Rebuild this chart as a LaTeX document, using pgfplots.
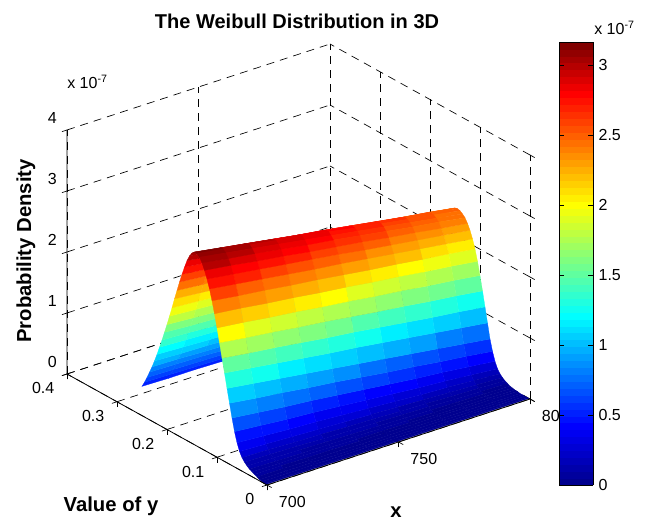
\documentclass[border=0pt]{standalone}
\usepackage{fontspec}
\setmainfont{Liberation Sans}
\usepackage{pgfplots}
\pgfplotsset{compat=1.18}
\pgfplotsset{
  colormap={mjetbase}{rgb255(0)=(0,0,143) rgb255(8)=(0,0,255) rgb255(24)=(0,255,255) rgb255(40)=(255,255,0) rgb255(56)=(255,0,0) rgb255(63)=(128,0,0)},
  colormap={mjet}{samples of colormap=(64 of mjetbase)},
}
\begin{document}
\fontsize{12pt}{14pt}\selectfont
\begin{tikzpicture}
\path[use as bounding box] (0,0) rectangle (486.75pt,390pt);
\begin{axis}[
  anchor=origin, at={(200.25pt,26.25pt)},
  x={(1.9725pt,0.645pt)}, y={(-375pt,208.125pt)}, z={(0pt,45.75pt)},
  xmin=700, xmax=800, ymin=0, ymax=0.4, zmin=0, zmax=4,
  xtick={700,750,800}, ytick={0,0.1,0.2,0.3,0.4}, ztick={0,1,2,3,4},
  /pgf/number format/assume math mode=true,
  /pgf/number format/fixed,
  scaled ticks=false,
  tick pos=left, tick align=outside,
  major tick length=4pt,
  tick style={black, line width=0.5pt},
  axis line style={draw=none},
  grid=major,
  grid style={black, line width=0.5pt, dash pattern=on 6pt off 4.5pt},
  xticklabel style={anchor=center, xshift=15.5pt, yshift=-11pt},
  yticklabel style={anchor=east, xshift=-1.5pt, yshift=-9.5pt},
  zticklabel style={anchor=east, xshift=0pt, yshift=6.75pt},
  colormap name=mjet, colormap access=piecewise constant,
  point meta min=0, point meta max=3.164,
  clip=false,
]
\addplot3[surf, z buffer=sort, mesh/cols=11, faceted color=mapped color, line width=0.2pt, point meta=z] coordinates {
(800,.25,.41)(790,.25,.42)(780,.25,.42)(770,.25,.43)(760,.25,.44)(750,.25,.45)(740,.25,.45)(730,.25,.46)(720,.25,.47)(710,.25,.47)(700,.25,.48)
(800,.245,.48)(790,.245,.49)(780,.245,.50)(770,.245,.51)(760,.245,.52)(750,.245,.53)(740,.245,.53)(730,.245,.54)(720,.245,.55)(710,.245,.56)(700,.245,.57)
(800,.24,.57)(790,.24,.58)(780,.24,.59)(770,.24,.60)(760,.24,.61)(750,.24,.62)(740,.24,.63)(730,.24,.64)(720,.24,.65)(710,.24,.66)(700,.24,.67)
(800,.235,.66)(790,.235,.67)(780,.235,.68)(770,.235,.70)(760,.235,.71)(750,.235,.72)(740,.235,.73)(730,.235,.74)(720,.235,.76)(710,.235,.77)(700,.235,.78)
(800,.23,.75)(790,.23,.76)(780,.23,.78)(770,.23,.79)(760,.23,.81)(750,.23,.82)(740,.23,.83)(730,.23,.85)(720,.23,.86)(710,.23,.88)(700,.23,.89)
(800,.225,.85)(790,.225,.87)(780,.225,.88)(770,.225,.90)(760,.225,.91)(750,.225,.93)(740,.225,.95)(730,.225,.96)(720,.225,.98)(710,.225,.99)(700,.225,1.01)
(800,.22,.96)(790,.22,.98)(780,.22,1.00)(770,.22,1.01)(760,.22,1.03)(750,.22,1.05)(740,.22,1.07)(730,.22,1.09)(720,.22,1.10)(710,.22,1.12)(700,.22,1.14)
(800,.215,1.07)(790,.215,1.09)(780,.215,1.11)(770,.215,1.13)(760,.215,1.15)(750,.215,1.18)(740,.215,1.20)(730,.215,1.22)(720,.215,1.24)(710,.215,1.26)(700,.215,1.28)
(800,.21,1.19)(790,.21,1.21)(780,.21,1.24)(770,.21,1.26)(760,.21,1.28)(750,.21,1.31)(740,.21,1.33)(730,.21,1.35)(720,.21,1.37)(710,.21,1.40)(700,.21,1.42)
(800,.205,1.31)(790,.205,1.34)(780,.205,1.36)(770,.205,1.39)(760,.205,1.41)(750,.205,1.44)(740,.205,1.47)(730,.205,1.49)(720,.205,1.52)(710,.205,1.54)(700,.205,1.57)
(800,.20,1.44)(790,.20,1.47)(780,.20,1.50)(770,.20,1.52)(760,.20,1.55)(750,.20,1.58)(740,.20,1.61)(730,.20,1.64)(720,.20,1.66)(710,.20,1.69)(700,.20,1.72)
(800,.195,1.57)(790,.195,1.60)(780,.195,1.63)(770,.195,1.66)(760,.195,1.69)(750,.195,1.73)(740,.195,1.76)(730,.195,1.79)(720,.195,1.82)(710,.195,1.85)(700,.195,1.88)
(800,.19,1.70)(790,.19,1.73)(780,.19,1.77)(770,.19,1.80)(760,.19,1.84)(750,.19,1.87)(740,.19,1.90)(730,.19,1.94)(720,.19,1.97)(710,.19,2.01)(700,.19,2.04)
(800,.185,1.83)(790,.185,1.87)(780,.185,1.91)(770,.185,1.94)(760,.185,1.98)(750,.185,2.02)(740,.185,2.06)(730,.185,2.10)(720,.185,2.13)(710,.185,2.17)(700,.185,2.21)
(800,.18,1.96)(790,.18,2.00)(780,.18,2.04)(770,.18,2.08)(760,.18,2.12)(750,.18,2.17)(740,.18,2.21)(730,.18,2.25)(720,.18,2.29)(710,.18,2.33)(700,.18,2.37)
(800,.175,2.08)(790,.175,2.13)(780,.175,2.17)(770,.175,2.22)(760,.175,2.26)(750,.175,2.31)(740,.175,2.35)(730,.175,2.40)(720,.175,2.44)(710,.175,2.49)(700,.175,2.53)
(800,.17,2.19)(790,.17,2.24)(780,.17,2.29)(770,.17,2.34)(760,.17,2.39)(750,.17,2.44)(740,.17,2.48)(730,.17,2.53)(720,.17,2.58)(710,.17,2.63)(700,.17,2.68)
(800,.165,2.28)(790,.165,2.33)(780,.165,2.39)(770,.165,2.44)(760,.165,2.50)(750,.165,2.55)(740,.165,2.60)(730,.165,2.66)(720,.165,2.71)(710,.165,2.77)(700,.165,2.82)
(800,.16,2.36)(790,.16,2.42)(780,.16,2.48)(770,.16,2.54)(760,.16,2.60)(750,.16,2.66)(740,.16,2.71)(730,.16,2.77)(720,.16,2.83)(710,.16,2.89)(700,.16,2.95)
(800,.155,2.42)(790,.155,2.48)(780,.155,2.55)(770,.155,2.61)(760,.155,2.67)(750,.155,2.74)(740,.155,2.80)(730,.155,2.86)(720,.155,2.92)(710,.155,2.99)(700,.155,3.05)
(800,.15,2.45)(790,.15,2.52)(780,.15,2.58)(770,.15,2.65)(760,.15,2.72)(750,.15,2.79)(740,.15,2.85)(730,.15,2.92)(720,.15,2.99)(710,.15,3.05)(700,.15,3.12)
(800,.145,2.46)(790,.145,2.53)(780,.145,2.60)(770,.145,2.67)(760,.145,2.74)(750,.145,2.81)(740,.145,2.88)(730,.145,2.95)(720,.145,3.02)(710,.145,3.09)(700,.145,3.16)
(800,.14,2.45)(790,.14,2.52)(780,.14,2.59)(770,.14,2.66)(760,.14,2.73)(750,.14,2.81)(740,.14,2.88)(730,.14,2.95)(720,.14,3.02)(710,.14,3.09)(700,.14,3.16)
(800,.135,2.42)(790,.135,2.49)(780,.135,2.56)(770,.135,2.63)(760,.135,2.70)(750,.135,2.77)(740,.135,2.84)(730,.135,2.91)(720,.135,2.98)(710,.135,3.05)(700,.135,3.12)
(800,.13,2.38)(790,.13,2.45)(780,.13,2.51)(770,.13,2.58)(760,.13,2.65)(750,.13,2.72)(740,.13,2.78)(730,.13,2.85)(720,.13,2.92)(710,.13,2.98)(700,.13,3.05)
(800,.125,2.31)(790,.125,2.37)(780,.125,2.44)(770,.125,2.50)(760,.125,2.57)(750,.125,2.63)(740,.125,2.69)(730,.125,2.76)(720,.125,2.82)(710,.125,2.89)(700,.125,2.95)
(800,.12,2.22)(790,.12,2.28)(780,.12,2.34)(770,.12,2.40)(760,.12,2.46)(750,.12,2.53)(740,.12,2.59)(730,.12,2.65)(720,.12,2.71)(710,.12,2.77)(700,.12,2.83)
(800,.115,2.10)(790,.115,2.16)(780,.115,2.22)(770,.115,2.28)(760,.115,2.34)(750,.115,2.40)(740,.115,2.45)(730,.115,2.51)(720,.115,2.57)(710,.115,2.63)(700,.115,2.69)
(800,.11,1.96)(790,.11,2.02)(780,.11,2.07)(770,.11,2.13)(760,.11,2.18)(750,.11,2.24)(740,.11,2.30)(730,.11,2.35)(720,.11,2.41)(710,.11,2.46)(700,.11,2.52)
(800,.105,1.78)(790,.105,1.84)(780,.105,1.89)(770,.105,1.95)(760,.105,2.00)(750,.105,2.06)(740,.105,2.11)(730,.105,2.17)(720,.105,2.22)(710,.105,2.28)(700,.105,2.33)
(800,.10,1.57)(790,.10,1.63)(780,.10,1.68)(770,.10,1.74)(760,.10,1.79)(750,.10,1.85)(740,.10,1.90)(730,.10,1.96)(720,.10,2.01)(710,.10,2.07)(700,.10,2.12)
(800,.095,1.34)(790,.095,1.40)(780,.095,1.45)(770,.095,1.51)(760,.095,1.56)(750,.095,1.62)(740,.095,1.68)(730,.095,1.73)(720,.095,1.79)(710,.095,1.84)(700,.095,1.90)
(800,.09,1.10)(790,.09,1.16)(780,.09,1.21)(770,.09,1.27)(760,.09,1.33)(750,.09,1.39)(740,.09,1.44)(730,.09,1.50)(720,.09,1.56)(710,.09,1.61)(700,.09,1.67)
(800,.085,.86)(790,.085,.92)(780,.085,.98)(770,.085,1.04)(760,.085,1.10)(750,.085,1.16)(740,.085,1.21)(730,.085,1.27)(720,.085,1.33)(710,.085,1.39)(700,.085,1.45)
(800,.08,.62)(790,.08,.68)(780,.08,.74)(770,.08,.80)(760,.08,.86)(750,.08,.92)(740,.08,.98)(730,.08,1.04)(720,.08,1.10)(710,.08,1.16)(700,.08,1.22)
(800,.075,.44)(790,.075,.50)(780,.075,.55)(770,.075,.61)(760,.075,.66)(750,.075,.72)(740,.075,.78)(730,.075,.83)(720,.075,.89)(710,.075,.94)(700,.075,1.00)
(800,.07,.30)(790,.07,.35)(780,.07,.40)(770,.07,.44)(760,.07,.49)(750,.07,.54)(740,.07,.59)(730,.07,.64)(720,.07,.68)(710,.07,.73)(700,.07,.78)
(800,.065,.20)(790,.065,.24)(780,.065,.28)(770,.065,.31)(760,.065,.35)(750,.065,.39)(740,.065,.43)(730,.065,.47)(720,.065,.50)(710,.065,.54)(700,.065,.58)
(800,.06,.14)(790,.06,.17)(780,.06,.20)(770,.06,.22)(760,.06,.25)(750,.06,.28)(740,.06,.31)(730,.06,.34)(720,.06,.36)(710,.06,.39)(700,.06,.42)
(800,.055,.10)(790,.055,.12)(780,.055,.14)(770,.055,.16)(760,.055,.18)(750,.055,.20)(740,.055,.22)(730,.055,.24)(720,.055,.26)(710,.055,.28)(700,.055,.30)
(800,.05,.07)(790,.05,.09)(780,.05,.10)(770,.05,.12)(760,.05,.13)(750,.05,.15)(740,.05,.16)(730,.05,.18)(720,.05,.19)(710,.05,.21)(700,.05,.22)
(800,.045,.05)(790,.045,.06)(780,.045,.07)(770,.045,.09)(760,.045,.10)(750,.045,.11)(740,.045,.12)(730,.045,.13)(720,.045,.15)(710,.045,.16)(700,.045,.17)
(800,.04,.03)(790,.04,.04)(780,.04,.05)(770,.04,.06)(760,.04,.07)(750,.04,.08)(740,.04,.09)(730,.04,.10)(720,.04,.11)(710,.04,.12)(700,.04,.13)
(800,.035,.02)(790,.035,.03)(780,.035,.04)(770,.035,.04)(760,.035,.05)(750,.035,.06)(740,.035,.07)(730,.035,.08)(720,.035,.08)(710,.035,.09)(700,.035,.10)
(800,.03,.01)(790,.03,.02)(780,.03,.02)(770,.03,.03)(760,.03,.04)(750,.03,.05)(740,.03,.05)(730,.03,.06)(720,.03,.07)(710,.03,.07)(700,.03,.08)
(800,.025,.01)(790,.025,.02)(780,.025,.02)(770,.025,.03)(760,.025,.03)(750,.025,.04)(740,.025,.04)(730,.025,.05)(720,.025,.05)(710,.025,.06)(700,.025,.06)
(800,.02,0)(790,.02,0)(780,.02,.01)(770,.02,.01)(760,.02,.02)(750,.02,.02)(740,.02,.02)(730,.02,.03)(720,.02,.03)(710,.02,.04)(700,.02,.04)
(800,.015,0)(790,.015,0)(780,.015,0)(770,.015,.01)(760,.015,.01)(750,.015,.01)(740,.015,.01)(730,.015,.01)(720,.015,.02)(710,.015,.02)(700,.015,.02)
(800,.01,0)(790,.01,0)(780,.01,0)(770,.01,0)(760,.01,0)(750,.01,.01)(740,.01,.01)(730,.01,.01)(720,.01,.01)(710,.01,.01)(700,.01,.01)
(800,.005,0)(790,.005,0)(780,.005,0)(770,.005,0)(760,.005,0)(750,.005,0)(740,.005,0)(730,.005,0)(720,.005,0)(710,.005,0)(700,.005,0)
(800,.002,0)(790,.002,0)(780,.002,0)(770,.002,0)(760,.002,0)(750,.002,0)(740,.002,0)(730,.002,0)(720,.002,0)(710,.002,0)(700,.002,0)
};
\draw[black, line width=0.6pt] (axis cs:800,0,0)--(axis cs:700,0,0)--(axis cs:700,0.4,0)--(axis cs:700,0.4,4);
\end{axis}
\node[font=\bfseries\fontsize{15pt}{17pt}\selectfont] at (222.75pt,374.25pt) {The Weibull Distribution in 3D};
\node[anchor=west, inner sep=0pt] at (50.25pt,328.5pt) {x 10\textsuperscript{-7}};
\node[font=\bfseries\fontsize{15.2pt}{17pt}\selectfont, rotate=90] at (19.5pt,201.75pt) {Probability Density};
\node[font=\bfseries\fontsize{15.2pt}{17pt}\selectfont] at (83.25pt,10.5pt) {Value of y};
\node[font=\bfseries\fontsize{15.2pt}{17pt}\selectfont] at (297pt,6pt) {x};
\begin{axis}[
  anchor=south west, at={(419.25pt,26.25pt)},
  scale only axis, width=25.5pt, height=332.25pt,
  view={0}{90},
  xmin=0, xmax=1, ymin=0, ymax=3.164,
  xtick=\empty, ytick={0,0.5,1,1.5,2,2.5,3},
  /pgf/number format/assume math mode=true,
  /pgf/number format/fixed,
  ytick pos=both, yticklabel pos=right, tick align=inside,
  major tick length=4pt, tick style={black, line width=0.5pt},
  axis line style={black, line width=0.7pt},
  colormap name=mjet, colormap access=piecewise constant,
  point meta min=0, point meta max=3.164,
  axis on top,
]
\addplot3[surf, shader=flat, mesh/cols=2, point meta=y] coordinates {
(0,0,0)(1,0,0)(0,.0494,0)(1,.0494,0)(0,.0989,0)(1,.0989,0)(0,.1483,0)(1,.1483,0)
(0,.1978,0)(1,.1978,0)(0,.2472,0)(1,.2472,0)(0,.2966,0)(1,.2966,0)(0,.3461,0)(1,.3461,0)
(0,.3955,0)(1,.3955,0)(0,.4449,0)(1,.4449,0)(0,.4944,0)(1,.4944,0)(0,.5438,0)(1,.5438,0)
(0,.5933,0)(1,.5933,0)(0,.6427,0)(1,.6427,0)(0,.6921,0)(1,.6921,0)(0,.7416,0)(1,.7416,0)
(0,.7910,0)(1,.7910,0)(0,.8404,0)(1,.8404,0)(0,.8899,0)(1,.8899,0)(0,.9393,0)(1,.9393,0)
(0,.9888,0)(1,.9888,0)(0,1.0382,0)(1,1.0382,0)(0,1.0876,0)(1,1.0876,0)(0,1.1371,0)(1,1.1371,0)
(0,1.1865,0)(1,1.1865,0)(0,1.2359,0)(1,1.2359,0)(0,1.2854,0)(1,1.2854,0)(0,1.3348,0)(1,1.3348,0)
(0,1.3843,0)(1,1.3843,0)(0,1.4337,0)(1,1.4337,0)(0,1.4831,0)(1,1.4831,0)(0,1.5326,0)(1,1.5326,0)
(0,1.5820,0)(1,1.5820,0)(0,1.6314,0)(1,1.6314,0)(0,1.6809,0)(1,1.6809,0)(0,1.7303,0)(1,1.7303,0)
(0,1.7798,0)(1,1.7798,0)(0,1.8292,0)(1,1.8292,0)(0,1.8786,0)(1,1.8786,0)(0,1.9281,0)(1,1.9281,0)
(0,1.9775,0)(1,1.9775,0)(0,2.0269,0)(1,2.0269,0)(0,2.0764,0)(1,2.0764,0)(0,2.1258,0)(1,2.1258,0)
(0,2.1753,0)(1,2.1753,0)(0,2.2247,0)(1,2.2247,0)(0,2.2741,0)(1,2.2741,0)(0,2.3236,0)(1,2.3236,0)
(0,2.3730,0)(1,2.3730,0)(0,2.4224,0)(1,2.4224,0)(0,2.4719,0)(1,2.4719,0)(0,2.5213,0)(1,2.5213,0)
(0,2.5708,0)(1,2.5708,0)(0,2.6202,0)(1,2.6202,0)(0,2.6696,0)(1,2.6696,0)(0,2.7191,0)(1,2.7191,0)
(0,2.7685,0)(1,2.7685,0)(0,2.8179,0)(1,2.8179,0)(0,2.8674,0)(1,2.8674,0)(0,2.9168,0)(1,2.9168,0)
(0,2.9663,0)(1,2.9663,0)(0,3.0157,0)(1,3.0157,0)(0,3.0651,0)(1,3.0651,0)(0,3.1146,0)(1,3.1146,0)
(0,3.164,0)(1,3.164,0)
};
\end{axis}
\node[anchor=west, inner sep=0pt] at (445.5pt,369pt) {x 10\textsuperscript{-7}};
\end{tikzpicture}
\end{document}
